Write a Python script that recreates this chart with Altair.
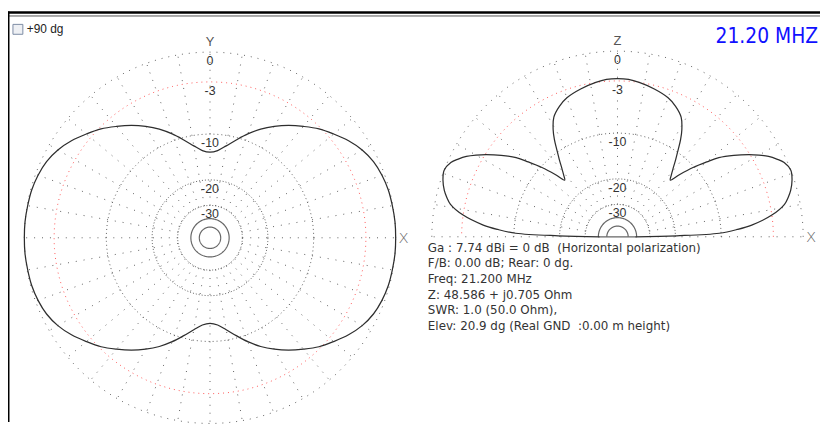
import altair as alt
import numpy as np
import pandas as pd

# ---------------- values ----------------
RING_DB = [0, -10, -20, -30]          # dotted grey rings
RING_DASH = [[1, 6], [1, 3], [1, 2], [1, 2]]
RED_RING_DB = [-3]                    # dotted red ring
SOLID_RING_DB = [-39, -49]            # small solid rings at the centre
LABEL_TEXT = ["0", "-3", "-10", "-20", "-30"]
LABEL_DB = [0, -3, -10, -20, -30]
RADIAL_STEP = 10

# horizontal (azimuth) pattern, one quadrant, symmetric
AZ_DEG = [0, 5, 10, 15, 20, 25, 30, 35, 40, 45, 50, 55, 60, 65, 70, 75, 80, 85, 90]
AZ_DB = [0, 0, -0.05, -0.1, -0.25, -0.5, -0.95, -1.6, -2.4, -3.2, -4.2, -5.2,
         -6.3, -7.5, -8.9, -10.4, -11.8, -12.9, -13.3]

# vertical (elevation) pattern, 0..90 deg, symmetric
EL_DEG = [0, 1, 2, 3.5, 5, 8, 11, 13, 15, 18, 21, 24, 26, 28, 30, 32, 35, 38, 40,
          42.5, 45, 47, 49, 51, 53, 55, 57, 59, 62, 66, 70, 76, 82, 86, 90]
EL_DB = [-40, -19.6, -10.3, -7.5, -5.5, -3.0, -1.5, -1.0, -0.6, -0.2, 0, -0.3, -0.8,
         -1.4, -2.2, -3.1, -4.6, -6.3, -8.0, -10.2, -12.8, -15.0, -14.0, -12.7, -11.2,
         -9.7, -8.1, -6.8, -5.4, -4.5, -3.9, -3.4, -3.0, -2.8, -2.75]

INFO_LINES = [
    "Ga : 7.74 dBi = 0 dB \u00a0(Horizontal polarization)",
    "F/B: 0.00 dB; Rear: 0 dg.",
    "Freq: 21.200 MHz",
    "Z: 48.586 + j0.705 Ohm",
    "SWR: 1.0 (50.0 Ohm),",
    "Elev: 20.9 dg (Real GND \u00a0:0.00 m height)",
]
TITLE = "21.20 MHZ"
CHECK_LABEL = "+90 dg"

# ---------------- layout ----------------
W, H = 820, 416
R_PX = 187.5
LX, LY = 204.0, 230.0                  # left centre in chart pixels
L_C = (0.0, 0.0)
R_C = ((615.5 - LX) / R_PX, (LY - 229.0) / R_PX)

xs = alt.Scale(domain=[-LX / R_PX, (W - LX) / R_PX], range=[0, W], nice=False, zero=False)
ys = alt.Scale(domain=[(LY - H) / R_PX, LY / R_PX], range=[H, 0], nice=False, zero=False)


def rad(db):
    return 0.89 ** (abs(db) / 2.0)


def arc_rows(c, r, a0, a1, gid, step=2):
    rows = []
    angs = np.arange(a0, a1 + 0.001, step)
    for k, a in enumerate(angs):
        t = np.radians(a)
        rows.append({"u": c[0] + r * np.cos(t), "v": c[1] + r * np.sin(t), "g": gid, "o": k})
    return rows


def xy():
    return alt.X("u:Q", scale=xs, axis=None), alt.Y("v:Q", scale=ys, axis=None)


layers = []
x, y = xy()

# dotted grey rings
for db, dash in zip(RING_DB, RING_DASH):
    rows = arc_rows(L_C, rad(db), 0, 360, "L") + arc_rows(R_C, rad(db), 0, 180, "R")
    layers.append(alt.Chart(pd.DataFrame(rows))
                  .mark_line(color="#444", strokeWidth=1, strokeDash=dash, opacity=0.85)
                  .encode(x=x, y=y, detail="g:N", order="o:Q"))

# red ring
for db in RED_RING_DB:
    rows = arc_rows(L_C, rad(db), 0, 360, "L") + arc_rows(R_C, rad(db), 0, 180, "R")
    layers.append(alt.Chart(pd.DataFrame(rows))
                  .mark_line(color="#ff3030", strokeWidth=1, strokeDash=[1, 4], opacity=0.8)
                  .encode(x=x, y=y, detail="g:N", order="o:Q"))

# radials
rad_rows = []
for a in range(0, 360, RADIAL_STEP):
    t = np.radians(a)
    for k, db in enumerate([-30, 0]):
        rad_rows.append({"u": L_C[0] + rad(db) * np.cos(t), "v": L_C[1] + rad(db) * np.sin(t),
                         "g": f"L{a}", "o": k})
for a in range(0, 181, RADIAL_STEP):
    t = np.radians(a)
    for k, db in enumerate([-30, 0]):
        rad_rows.append({"u": R_C[0] + rad(db) * np.cos(t), "v": R_C[1] + rad(db) * np.sin(t),
                         "g": f"R{a}", "o": k})
layers.append(alt.Chart(pd.DataFrame(rad_rows))
              .mark_line(color="#444", strokeWidth=1, strokeDash=[1, 7], opacity=0.85)
              .encode(x=x, y=y, detail="g:N", order="o:Q"))

# solid centre rings
srows = []
for db in SOLID_RING_DB:
    srows += arc_rows(L_C, rad(db), 0, 360, f"L{db}") + arc_rows(R_C, rad(db), 0, 180, f"R{db}")
srows += [{"u": R_C[0] - rad(SOLID_RING_DB[0]), "v": R_C[1], "g": "base", "o": 0},
          {"u": R_C[0] + rad(SOLID_RING_DB[0]), "v": R_C[1], "g": "base", "o": 1}]
layers.append(alt.Chart(pd.DataFrame(srows)).mark_line(color="#666", strokeWidth=1.2)
              .encode(x=x, y=y, detail="g:N", order="o:Q"))

# azimuth pattern (closed)
az_rows = []
for quad in range(4):
    for a, db in zip(AZ_DEG, AZ_DB):
        if a == 90:
            continue
        phi = quad * 90 + (a if quad % 2 == 0 else 90 - a)
        if quad % 2 == 1:
            db = AZ_DB[AZ_DEG.index(90 - (90 - a))] if False else db
        az_rows.append((phi, db))
# rebuild quadrant mirroring cleanly
az_pts = []
for quad in range(4):
    for a, db in zip(AZ_DEG[:-1], AZ_DB[:-1]):
        if quad % 2 == 0:
            phi = quad * 90 + a
            val = db
        else:
            phi = quad * 90 + a
            val = AZ_DB[AZ_DEG.index(90 - a)]
        t = np.radians(phi)
        r = rad(val)
        az_pts.append({"u": L_C[0] + r * np.cos(t), "v": L_C[1] + r * np.sin(t), "o": phi})
layers.append(alt.Chart(pd.DataFrame(az_pts))
              .mark_line(color="#2e2e2e", strokeWidth=1.25, interpolate="cardinal-closed")
              .encode(x=x, y=y, order="o:Q"))

# elevation pattern
el_rows = list(zip(EL_DEG, EL_DB))
for e, db in zip(EL_DEG[::-1], EL_DB[::-1]):
    if e == 90:
        continue
    el_rows.append((180 - e, db))
el_df = pd.DataFrame([{"u": R_C[0] + rad(db) * np.cos(np.radians(th)),
                       "v": R_C[1] + rad(db) * np.sin(np.radians(th)), "o": th}
                      for th, db in el_rows])
layers.append(alt.Chart(el_df)
              .mark_line(color="#2e2e2e", strokeWidth=1.25, interpolate="catmull-rom")
              .encode(x=x, y=y, order="o:Q"))

# ring labels
lab_rows = []
for c in (L_C, R_C):
    for t, db in zip(LABEL_TEXT, LABEL_DB):
        lab_rows.append({"u": c[0], "v": c[1] + rad(db), "t": t})
layers.append(alt.Chart(pd.DataFrame(lab_rows))
              .mark_text(dy=9, baseline="middle", align="center", fontSize=12.5,
                         font="Liberation Sans", color="#333")
              .encode(x=x, y=y, text="t:N"))

# axis letters
ax_df = pd.DataFrame([
    {"u": L_C[0], "v": L_C[1] + rad(0), "t": "Y"},
    {"u": R_C[0], "v": R_C[1] + rad(0), "t": "Z"},
])
layers.append(alt.Chart(ax_df)
              .mark_text(dy=-10, baseline="middle", align="center", fontSize=13,
                         font="Liberation Sans", color="#555")
              .encode(x=x, y=y, text="t:N"))
axx_df = pd.DataFrame([
    {"u": L_C[0] + rad(0), "v": L_C[1], "t": "X"},
    {"u": R_C[0] + rad(0), "v": R_C[1], "t": "X"},
])
layers.append(alt.Chart(axx_df)
              .mark_text(dx=8, baseline="middle", align="center", fontSize=15,
                         font="DejaVu Sans", fontWeight=200, color="#666")
              .encode(x=x, y=y, text="t:N"))

# info block
info_df = pd.DataFrame([{"u": (424 - LX) / R_PX, "v": (LY - (240 + 15.8 * i)) / R_PX, "t": s}
                        for i, s in enumerate(INFO_LINES)])
layers.append(alt.Chart(info_df)
              .mark_text(align="left", baseline="middle", fontSize=12,
                         font="DejaVu Sans", color="#333")
              .encode(x=x, y=y, text="t:N"))

# title
layers.append(alt.Chart(pd.DataFrame({"t": [TITLE]})).mark_text(
    align="right", baseline="middle", fontSize=21,
    font="DejaVu Sans Condensed, sans-serif", color="#1010ff")
    .encode(x=alt.value(818), y=alt.value(27), text="t:N"))

# checkbox
layers.append(alt.Chart(pd.DataFrame({"a": [0]}))
              .mark_rect(fill="#eef0f4", stroke="#7c8ca4", strokeWidth=1)
              .encode(x=alt.value(5), x2=alt.value(15), y=alt.value(14.5), y2=alt.value(24.5)))
layers.append(alt.Chart(pd.DataFrame({"t": [CHECK_LABEL]})).mark_text(
    align="left", baseline="middle", fontSize=12, font="Liberation Sans", color="#222")
    .encode(x=alt.value(19), y=alt.value(19.5), text="t:N"))

# frame
layers.append(alt.Chart(pd.DataFrame({"a": [0]})).mark_rule(color="#000", strokeWidth=2.5)
              .encode(x=alt.value(0), x2=alt.value(W), y=alt.value(2.5)))
layers.append(alt.Chart(pd.DataFrame({"a": [0]})).mark_rule(color="#555", strokeWidth=1)
              .encode(x=alt.value(0), x2=alt.value(W), y=alt.value(6)))
layers.append(alt.Chart(pd.DataFrame({"a": [0]})).mark_rule(color="#000", strokeWidth=1.5)
              .encode(x=alt.value(0.75), y=alt.value(1.5), y2=alt.value(H)))

chart = alt.layer(*layers).properties(
    width=W, height=H, padding=0, autosize=alt.AutoSizeParams(type="none"), background="white"
).configure_view(stroke=None)

chart.save("out.html", embed_options={"renderer": "svg", "actions": False})
